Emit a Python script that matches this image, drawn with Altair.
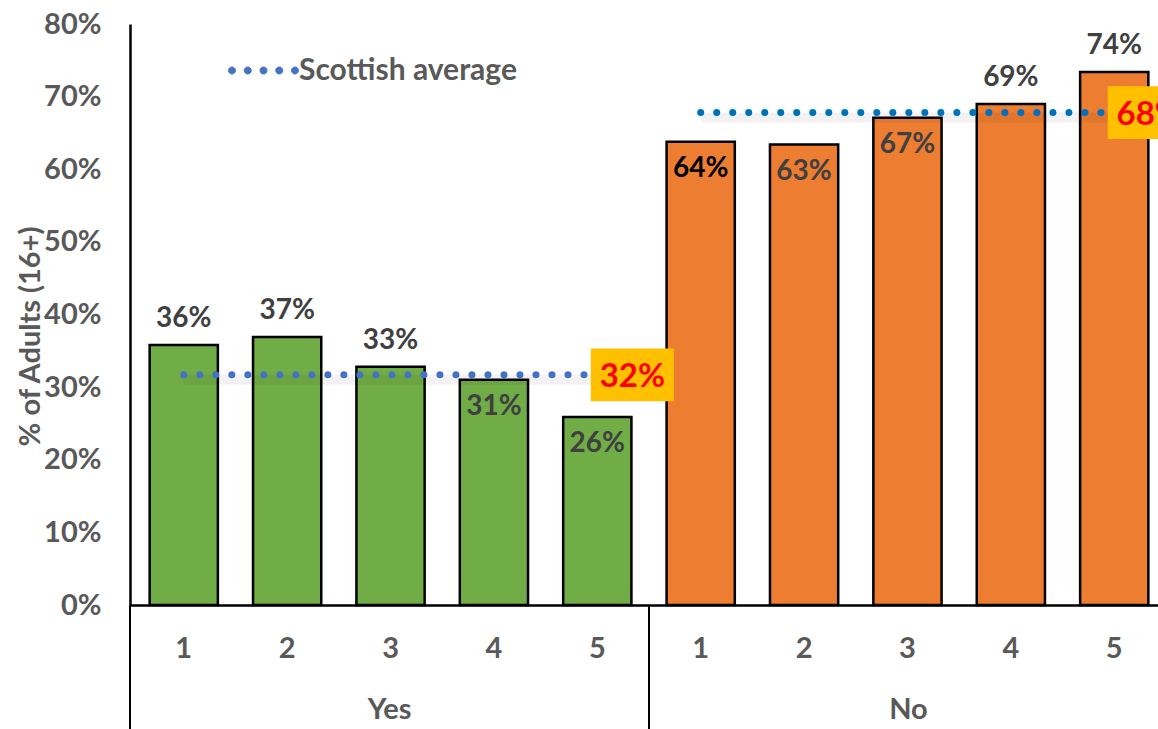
import altair as alt
import pandas as pd

# ---- data ----
groups = ["Yes"] * 5 + ["No"] * 5
levels = ["1", "2", "3", "4", "5"] * 2
values = [35.8, 36.9, 32.8, 31.0, 25.9, 63.8, 63.4, 67.1, 69.0, 73.4]
labels = ["36%", "37%", "33%", "31%", "26%", "64%", "63%", "67%", "69%", "74%"]
label_inside = [False, False, False, True, True, True, True, True, False, False]
label_colors = ["#404040"] * 5 + ["#000000"] + ["#404040"] * 4

avg_groups = ["Yes", "No"]
avg_values = [31.7, 67.8]
avg_labels = ["32%", "68%"]

y_ticks = [0, 10, 20, 30, 40, 50, 60, 70, 80]
group_order = ["Yes", "No"]
bar_colors = ["#70AD47", "#ED7D31"]

FONT = "Lato"
GREY = "#595959"
FS = 29
LFS = 28

df = pd.DataFrame({"group": groups, "level": levels, "value": values,
                   "label": labels, "inside": label_inside, "lcolor": label_colors})
df["cat"] = df["group"] + "-" + df["level"]
cats = list(df["cat"])

avg_rows = []
for g, v, lab in zip(avg_groups, avg_values, avg_labels):
    for lv in ["1", "2", "3", "4", "5"]:
        avg_rows.append({"group": g, "cat": f"{g}-{lv}", "avg": v, "label": lab,
                         "series": "Scottish average", "last": lv == "5"})
avg_df = pd.DataFrame(avg_rows)

xscale = alt.Scale(domain=cats, range=[0, 1038], paddingInner=0.34, paddingOuter=0.19)
x_enc = alt.X("cat:N", sort=cats, scale=xscale,
              axis=alt.Axis(title=None, labelExpr="split(datum.value, '-')[1]", labelAngle=0,
                            ticks=False, domainColor="black", domainWidth=2.5,
                            labelFont=FONT, labelFontWeight="bold", labelFontSize=FS,
                            labelColor=GREY, labelPadding=43, labelBaseline="middle"))
y_enc = alt.Y("value:Q", scale=alt.Scale(domain=[0, 80]),
              axis=alt.Axis(values=y_ticks, labelExpr="datum.value + '%'", grid=False, ticks=False,
                            domainColor="black", domainWidth=2.5,
                            labelFont=FONT, labelFontWeight="bold", labelFontSize=FS,
                            labelColor=GREY, labelPadding=29,
                            title="% of Adults (16+)", titleFont=FONT, titleFontWeight="bold",
                            titleFontSize=FS, titleColor=GREY, titleAngle=270,
                            titleAlign="center", titleBaseline="middle", titleX=-100, titleY=312))

base = alt.Chart(df)
bars = base.mark_bar(stroke="black", strokeWidth=2.5).encode(
    x=x_enc, y=y_enc,
    color=alt.Color("group:N", scale=alt.Scale(domain=group_order, range=bar_colors), legend=None),
)
text_out = base.transform_filter("!datum.inside").mark_text(
    font=FONT, fontWeight="bold", fontSize=LFS, baseline="alphabetic", dy=-18
).encode(x=alt.X("cat:N", sort=cats), y="value:Q", text="label:N",
         color=alt.Color("lcolor:N", scale=None))
text_in = base.transform_filter("datum.inside").mark_text(
    font=FONT, fontWeight="bold", fontSize=LFS, baseline="alphabetic", dy=35
).encode(x=alt.X("cat:N", sort=cats), y="value:Q", text="label:N",
         color=alt.Color("lcolor:N", scale=None))

R = 0.1
dots_path = " ".join(
    f"M{c - R:.3f},0a{R},{R} 0 1,0 {2 * R},0a{R},{R} 0 1,0 {-2 * R},0"
    for c in [-0.9, -0.45, 0.0, 0.45, 0.9]
)

avg_base = alt.Chart(avg_df)
shadow = avg_base.mark_line(
    strokeWidth=10, color="#000000", opacity=0.05, yOffset=5
).encode(x=alt.X("cat:N", sort=cats), y=alt.Y("avg:Q"), detail="group:N")
avg_yes = avg_base.transform_filter("datum.group == 'Yes'").mark_line(
    strokeWidth=7, strokeDash=[0.01, 16], strokeCap="round"
).encode(
    x=alt.X("cat:N", sort=cats), y=alt.Y("avg:Q"),
    stroke=alt.Stroke("series:N", scale=alt.Scale(domain=["Scottish average"], range=["#4472C4"]),
                      legend=alt.Legend(title=None, orient="none", legendX=98, legendY=11,
                                        symbolType=dots_path, symbolSize=4900,
                                        symbolFillColor="#4472C4", symbolStrokeWidth=1,
                                        labelFont=FONT, labelFontWeight="bold", labelFontSize=30,
                                        labelColor=GREY, labelOffset=0, labelLimit=500)),
)
avg_no = avg_base.transform_filter("datum.group == 'No'").mark_line(
    strokeWidth=7, strokeDash=[0.01, 16], strokeCap="round", color="#0070C0"
).encode(x=alt.X("cat:N", sort=cats), y=alt.Y("avg:Q"))

box_path = "M-1,-0.635L1,-0.635L1,0.635L-1,0.635Z"
avg_last = avg_base.transform_filter("datum.last")
boxes = avg_last.mark_point(shape=box_path, size=6889, filled=True, fill="#FFC000",
                            opacity=1, strokeWidth=0, xOffset=35).encode(
    x=alt.X("cat:N", sort=cats), y=alt.Y("avg:Q"))
box_text = avg_last.mark_text(font=FONT, fontWeight="bold", fontSize=33, color="#FF0000",
                              baseline="middle", xOffset=35, dy=2).encode(
    x=alt.X("cat:N", sort=cats), y=alt.Y("avg:Q"), text="label:N")

main = alt.layer(bars, shadow, avg_yes, avg_no, text_out, text_in, boxes, box_text).resolve_scale(
    color="independent", stroke="independent")

gdf = pd.DataFrame({"g": group_order})
gx = alt.Scale(domain=group_order, range=[0, 1038], paddingInner=0, paddingOuter=0)
seps = alt.Chart(gdf).mark_rule(color="black", strokeWidth=2).encode(
    x=alt.X("g:N", sort=group_order, scale=gx, axis=None, bandPosition=0),
    y=alt.value(581), y2=alt.value(705))
glabels = alt.Chart(gdf).mark_text(font=FONT, fontWeight="bold", fontSize=FS, color=GREY,
                                   baseline="middle").encode(
    x=alt.X("g:N", sort=group_order, scale=gx, axis=None),
    y=alt.value(686), text="g:N")
grp = alt.layer(seps, glabels)

chart = alt.layer(main, grp).resolve_scale(x="independent").properties(
    width=1028, height=581,
    autosize=alt.AutoSizeParams(type="none"),
    padding={"left": 130, "top": 24, "right": 0, "bottom": 124},
).configure_view(stroke=None)

chart.save("out.html", embed_options={"renderer": "svg", "actions": False})
